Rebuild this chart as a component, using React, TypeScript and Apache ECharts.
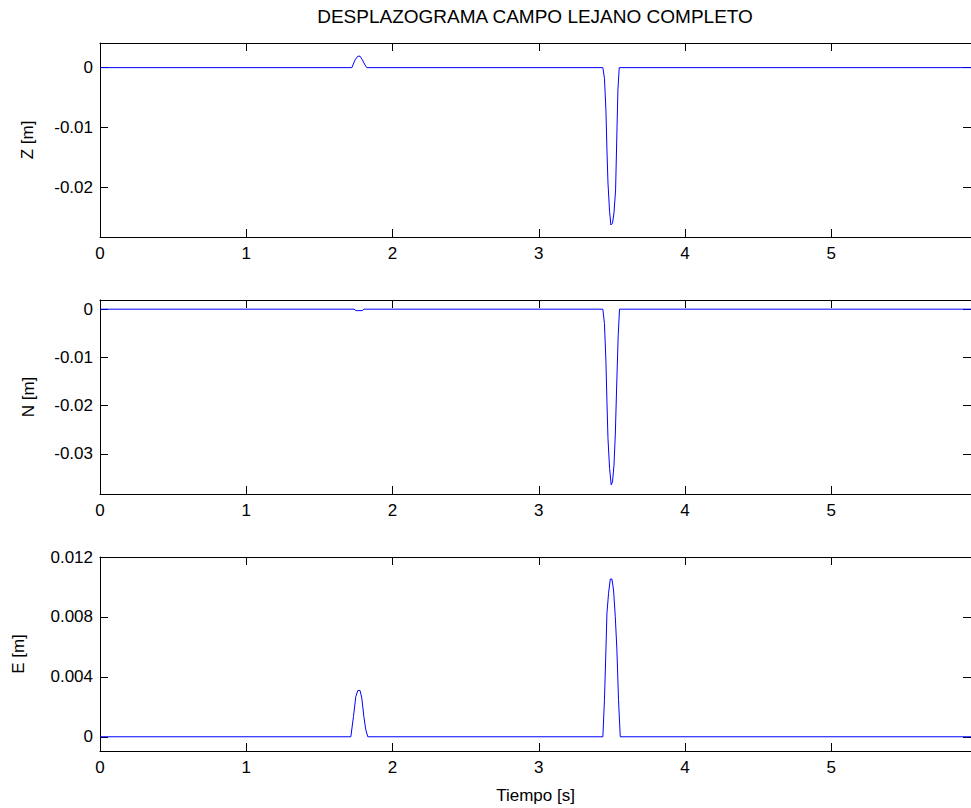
import React, { useEffect, useRef } from "react";
import * as echarts from "echarts";

const TITLE = "DESPLAZOGRAMA CAMPO LEJANO COMPLETO";
const X_LABEL = "Tiempo [s]";
const X_TICKS = [0, 1, 2, 3, 4, 5];
const X_MAX = 5.955;

const Z_NAME = "Z [m]";
const Z_TICKS = [0, -0.01, -0.02];
const Z_RANGE = [-0.0282, 0.0041];
const Z_T = [0, 1.722, 1.744, 1.763, 1.778, 1.794, 1.808, 1.824, 3.438, 3.449, 3.459, 3.466, 3.473, 3.484, 3.493, 3.504, 3.514, 3.525, 3.534, 3.541, 3.55, 5.955];
const Z_V = [0, 0, 0.0013, 0.0019, 0.0019, 0.0013, 0.0006, 0, 0, -0.0018, -0.0071, -0.0137, -0.0192, -0.024, -0.0262, -0.0259, -0.0242, -0.0204, -0.0109, -0.0037, 0, 0];

const N_NAME = "N [m]";
const N_TICKS = [0, -0.01, -0.02, -0.03];
const N_RANGE = [-0.0383, 0.0019];
const N_T = [0, 1.737, 1.751, 1.792, 1.806, 3.438, 3.449, 3.459, 3.466, 3.473, 3.484, 3.495, 3.504, 3.514, 3.523, 3.534, 3.543, 3.552, 5.955];
const N_V = [0, 0, -0.0003, -0.0003, 0, 0, -0.003, -0.0109, -0.0192, -0.0268, -0.033, -0.0364, -0.0358, -0.0323, -0.0261, -0.0143, -0.0054, 0, 0];

const E_NAME = "E [m]";
const E_TICKS = [0, 0.004, 0.008, 0.012];
const E_RANGE = [-0.00095, 0.012];
const E_T = [0, 1.715, 1.733, 1.749, 1.763, 1.778, 1.79, 1.804, 1.817, 1.831, 3.438, 3.449, 3.459, 3.466, 3.477, 3.489, 3.5, 3.511, 3.523, 3.534, 3.545, 3.557, 5.955];
const E_V = [0, 0, 0.00135, 0.00269, 0.00309, 0.00309, 0.00258, 0.00135, 0.00047, 0, 0, 0.00247, 0.0058, 0.00825, 0.00958, 0.01053, 0.01053, 0.0098, 0.00802, 0.0058, 0.00247, 0, 0];

const FONT = "'Liberation Sans', Arial, Helvetica, sans-serif";
const FS = 17;

export default function App() {
  const ref = useRef<HTMLDivElement>(null);
  useEffect(() => {
    if (!ref.current) return;
    const chart = echarts.init(ref.current, null, { renderer: "svg" });
    const panels = [
      { name: Z_NAME, ticks: Z_TICKS, range: Z_RANGE, t: Z_T, v: Z_V, top: 43, gap: 64, xName: "" },
      { name: N_NAME, ticks: N_TICKS, range: N_RANGE, t: N_T, v: N_V, top: 300, gap: 63, xName: "" },
      { name: E_NAME, ticks: E_TICKS, range: E_RANGE, t: E_T, v: E_V, top: 557, gap: 73, xName: X_LABEL },
    ];
    const axisLine = { show: true, onZero: false, lineStyle: { color: "#000", width: 1 } };
    const grid: any[] = [];
    const xAxis: any[] = [];
    const yAxis: any[] = [];
    const series: any[] = [];
    panels.forEach((p, i) => {
      grid.push({ left: 100, right: 0, top: p.top, height: 194, containLabel: false });
      xAxis.push({
        type: "value", gridIndex: i, position: "bottom", min: 0, max: X_MAX,
        axisLine, splitLine: { show: false },
        axisTick: { inside: true, length: 8, lineStyle: { color: "#000" }, customValues: X_TICKS },
        axisLabel: { color: "#000", fontFamily: FONT, fontSize: FS, margin: 8, customValues: X_TICKS },
        name: p.xName, nameLocation: "middle", nameGap: 36,
        nameTextStyle: { color: "#000", fontFamily: FONT, fontSize: FS },
      });
      xAxis.push({
        type: "value", gridIndex: i, position: "top", min: 0, max: X_MAX,
        axisLine, splitLine: { show: false },
        axisTick: { inside: true, length: 8, lineStyle: { color: "#000" }, customValues: X_TICKS },
        axisLabel: { show: false },
      });
      yAxis.push({
        type: "value", gridIndex: i, position: "left", min: p.range[0], max: p.range[1],
        axisLine, splitLine: { show: false },
        axisTick: { inside: true, length: 8, lineStyle: { color: "#000" }, customValues: p.ticks },
        axisLabel: { color: "#000", fontFamily: FONT, fontSize: FS, margin: 7, customValues: p.ticks },
        name: p.name, nameLocation: "middle", nameGap: p.gap, nameRotate: 90,
        nameTextStyle: { color: "#000", fontFamily: FONT, fontSize: FS },
      });
      yAxis.push({
        type: "value", gridIndex: i, position: "right", min: p.range[0], max: p.range[1],
        axisLine, splitLine: { show: false },
        axisTick: { inside: true, length: 8, lineStyle: { color: "#000" }, customValues: p.ticks },
        axisLabel: { show: false },
      });
      series.push({
        type: "line", xAxisIndex: i * 2, yAxisIndex: i * 2,
        data: p.t.map((t, k) => [t, p.v[k]]),
        showSymbol: false, symbol: "none", lineStyle: { color: "#0000ff", width: 1 },
        clip: true, silent: true,
      });
    });
    chart.setOption({
      animation: false,
      backgroundColor: "#fff",
      grid, xAxis, yAxis, series,
      graphic: [
        {
          type: "text", x: 535, y: 16,
          style: { text: TITLE, fill: "#000", font: `19px ${FONT}`, align: "center", verticalAlign: "middle" },
        },
      ],
    });
    return () => chart.dispose();
  }, []);
  return <div ref={ref} style={{ position: "fixed", left: 0, top: 0, width: 971, height: 808 }} />;
}
